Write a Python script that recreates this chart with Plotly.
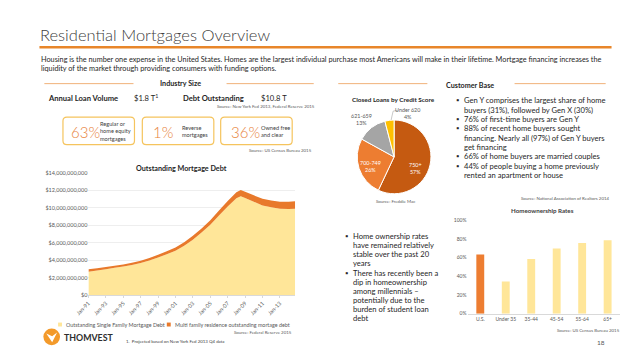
import plotly.graph_objects as go

W, H = 638, 359
def X(px): return px / W
def Y(py): return 1 - py / H

FONT = "Lato"
DARK = "#262626"
GREY = "#595959"

# ---------------- data ----------------
debt_dates = ["1991-01-01", "1992-01-01", "1993-01-01", "1994-01-01", "1995-01-01", "1996-01-01",
              "1997-01-01", "1998-01-01", "1999-01-01", "2000-01-01", "2001-01-01", "2002-01-01",
              "2003-01-01", "2004-01-01", "2005-01-01", "2006-01-01", "2007-01-01", "2008-01-01",
              "2008-07-01", "2009-01-01", "2010-01-01", "2011-01-01", "2012-01-01", "2013-01-01",
              "2014-01-01", "2014-10-01"]
single_family = [2.68, 2.82, 2.97, 3.12, 3.27, 3.46, 3.68, 3.96, 4.31, 4.68, 5.08, 5.65, 6.36, 7.17,
                 8.07, 9.12, 10.16, 11.12, 11.35, 11.13, 10.71, 10.29, 10.07, 9.90, 9.89, 9.92]
multi_family = [0.27, 0.26, 0.25, 0.25, 0.25, 0.26, 0.27, 0.29, 0.31, 0.34, 0.37, 0.40, 0.44, 0.48,
                0.53, 0.58, 0.64, 0.68, 0.70, 0.72, 0.74, 0.76, 0.78, 0.80, 0.83, 0.86]
debt_tickvals = [0, 2, 4, 6, 8, 10, 12, 14]
debt_ticktext = ["$0", "$2,000,000,000", "$4,000,000,000", "$6,000,000,000", "$8,000,000,000",
                 "$10,000,000,000", "$12,000,000,000", "$14,000,000,000"]
date_ticks = ["1991-01-01", "1993-01-01", "1995-01-01", "1997-01-01", "1999-01-01", "2001-01-01",
              "2003-01-01", "2005-01-01", "2007-01-01", "2009-01-01", "2011-01-01", "2013-01-01"]
date_ticktext = ["Jan-91", "Jan-93", "Jan-95", "Jan-97", "Jan-99", "Jan-01", "Jan-03", "Jan-05",
                 "Jan-07", "Jan-09", "Jan-11", "Jan-13"]

credit_labels = ["750+", "700-749", "621-659", "Under 620"]
credit_share = [57, 26, 13, 4]

age_groups = ["U.S.", "Under 35", "35-44", "45-54", "55-64", "65+"]
ownership_rate = [63.5, 34.5, 58.5, 69.8, 75.6, 78.6]

industry_pcts = ["63%", "1%", "36%"]
industry_desc = ["Regular or<br>home equity<br>mortgages", "Reverse<br>mortgages", "Owned free<br>and clear"]

customer_bullets = [
    ["Gen Y comprises the largest share of home", "buyers (31%), followed by Gen X (30%)"],
    ["76% of first-time buyers are Gen Y"],
    ["88% of recent home buyers sought", "financing. Nearly all (97%) of Gen Y buyers", "get financing"],
    ["66% of home buyers are married couples"],
    ["44% of people buying a home previously", "rented an apartment or house"],
]
ownership_bullets = [
    ["Home ownership rates", "have remained relatively", "stable over the past 20", "years"],
    ["There has recently been a", "dip in homeownership", "among millennials \u2013",
     "potentially due to the", "burden of student loan", "debt"],
]

# ---------------- figure ----------------
fig = go.Figure()

fig.add_trace(go.Scatter(x=debt_dates, y=single_family, stackgroup="debt", mode="none",
                         fillcolor="#FFE699", name="Outstanding Single Family Mortgage Debt",
                         xaxis="x", yaxis="y", showlegend=False))
fig.add_trace(go.Scatter(x=debt_dates, y=multi_family, stackgroup="debt", mode="none",
                         fillcolor="#E8792B", name="Multi family residence outstanding mortage debt",
                         xaxis="x", yaxis="y", showlegend=False))

fig.add_trace(go.Pie(labels=credit_labels, values=credit_share, sort=False, direction="clockwise",
                     rotation=0, textinfo="none", hoverinfo="label+percent",
                     marker=dict(colors=["#C55A11", "#ED7D31", "#A5A5A5", "#FFC000"],
                                 line=dict(color="white", width=1)),
                     domain=dict(x=[X(351), X(427)], y=[Y(194), Y(119)]), showlegend=False))

fig.add_trace(go.Bar(x=age_groups, y=ownership_rate, xaxis="x2", yaxis="y2",
                     marker=dict(color=["#ED7D31"] + ["#FFE699"] * 5, line=dict(width=0)),
                     showlegend=False))

axis_font = dict(family=FONT, size=5.5, color=GREY)
fig.update_layout(
    width=W, height=H, margin=dict(l=0, r=0, t=0, b=0), autosize=False,
    paper_bgcolor="white", plot_bgcolor="rgba(0,0,0,0)",
    font=dict(family=FONT, color=DARK),
    xaxis=dict(domain=[X(77), X(288)], type="date", range=["1991-01-01", "2014-10-01"],
               tickvals=date_ticks, ticktext=date_ticktext, tickangle=-45, tickfont=axis_font,
               showgrid=False, showline=True, linecolor="#D9D9D9", ticks="outside", ticklen=2,
               tickcolor="#D9D9D9", anchor="y", fixedrange=True),
    yaxis=dict(domain=[Y(297), Y(173)], range=[0, 14], tickvals=debt_tickvals, ticktext=debt_ticktext,
               tickfont=axis_font, showgrid=True, gridcolor="#E3E3E3", gridwidth=0.6,
               zeroline=False, anchor="x", fixedrange=True, ticklen=0),
    xaxis2=dict(domain=[X(464), X(620)], tickfont=dict(family=FONT, size=5, color=GREY),
                showline=True, linecolor="#D9D9D9", showgrid=False, anchor="y2", fixedrange=True),
    yaxis2=dict(domain=[Y(316), Y(221)], range=[0, 100], dtick=20, ticksuffix="%",
                tickfont=dict(family=FONT, size=5, color=GREY), showgrid=False, zeroline=False,
                anchor="x2", fixedrange=True),
    bargap=0.69,
)

shapes = []
ann = []

def txt(x, y, s, size, color=DARK, xanchor="left", yanchor="middle", align="left", bold=False, weight=None):
    if bold:
        s = "<b>" + s + "</b>"
    f = dict(family=FONT, size=size, color=color)
    if weight is not None:
        f["weight"] = weight
    ann.append(dict(x=X(x), y=Y(y), xref="paper", yref="paper", text=s, showarrow=False,
                    xanchor=xanchor, yanchor=yanchor, align=align, font=f))

def hline(x0, x1, y, color, width):
    shapes.append(dict(type="line", xref="paper", yref="paper", x0=X(x0), x1=X(x1), y0=Y(y), y1=Y(y),
                       line=dict(color=color, width=width)))

# Title and header
txt(26, 33, "Residential Mortgages Overview", 16.5, "#404040", weight=300)
hline(27, 611, 45, "#E8862A", 2.5)
txt(27, 57, "Housing is the number one expense in the United States. Homes are the largest individual purchase most Americans will make in their lifetime. Mortgage financing increases the", 7.3)
txt(27, 67, "liquidity of the market through providing consumers with funding options.", 7.3)

# Industry size
txt(171, 82, "Industry Size", 7.2, xanchor="center", bold=True)
hline(32, 123, 82, "#F0B27A", 1)
hline(218, 307, 82, "#F0B27A", 1)
txt(34, 97, "Annual Loan Volume", 7.6, bold=True)
txt(121, 97, "$1.8 T<sup>1</sup>", 7.6)
txt(172, 97, "Debt Outstanding", 7.6, bold=True)
txt(251, 97, "$10.8 T", 7.6)
txt(310, 105, "Source: New York Fed 2013, Federal Reserve 2015", 4.4, GREY, xanchor="right")

box_x = [51, 132, 212]
box_w = 73
for i, bx in enumerate(box_x):
    x0, x1, y0, y1, r = bx, bx + box_w, 116, 144, 4
    path = (f"M {X(x0 + r)},{Y(y0)} L {X(x1 - r)},{Y(y0)} Q {X(x1)},{Y(y0)} {X(x1)},{Y(y0 + r)} "
            f"L {X(x1)},{Y(y1 - r)} Q {X(x1)},{Y(y1)} {X(x1 - r)},{Y(y1)} L {X(x0 + r)},{Y(y1)} "
            f"Q {X(x0)},{Y(y1)} {X(x0)},{Y(y1 - r)} L {X(x0)},{Y(y0 + r)} Q {X(x0)},{Y(y0)} {X(x0 + r)},{Y(y0)} Z")
    shapes.append(dict(type="path", xref="paper", yref="paper", path=path,
                       line=dict(color="#F5C45E", width=1.2), fillcolor="white"))
pct_x = [57, 141, 220]
desc_x = [87, 170, 251]
for i in range(3):
    txt(pct_x[i], 131, industry_pcts[i], 15, "#E8833A", weight=300)
    txt(desc_x[i], 130, industry_desc[i], 5.6, "#404040")
txt(307, 150, "Source: US Census Bureau 2015", 4.4, GREY, xanchor="right")

# Area chart title / legend / sources
txt(172, 168, "Outstanding Mortgage Debt", 7.2, xanchor="center", bold=True)
shapes.append(dict(type="rect", xref="paper", yref="paper", x0=X(46), x1=X(50), y0=Y(325), y1=Y(329),
                   fillcolor="#FFE699", line=dict(width=0)))
txt(52, 327, "Outstanding Single Family Mortgage Debt", 5.4, GREY)
shapes.append(dict(type="rect", xref="paper", yref="paper", x0=X(157), x1=X(161), y0=Y(325), y1=Y(329),
                   fillcolor="#E8792B", line=dict(width=0)))
txt(163, 327, "Multi family residence outstanding mortage debt", 5.4, GREY)
txt(287, 335, "Source: Federal Reserve 2015", 4.4, GREY, xanchor="right")
txt(113, 344, "1.  Projected based on New York Fed 2013 Q4 data", 4.4, "#404040")

# Logo
shapes.append(dict(type="circle", xref="paper", yref="paper", x0=X(31), x1=X(48), y0=Y(348), y1=Y(331),
                   fillcolor="#F39A2B", line=dict(width=0)))
shapes.append(dict(type="path", xref="paper", yref="paper",
                   path=f"M {X(34)},{Y(336)} L {X(40)},{Y(345)} L {X(45)},{Y(335)} L {X(40)},{Y(339)} Z",
                   fillcolor="white", line=dict(width=0)))
txt(50, 340, "THOMVEST", 8.8, "#2E2E2E", bold=True)

# Customer base
txt(467, 84, "Customer Base", 7.2, xanchor="center", bold=True)
hline(332, 423, 82, "#F0B27A", 1)
hline(512, 605, 82, "#F0B27A", 1)
txt(388, 98, "Closed Loans by Credit Score", 6.4, xanchor="center", bold=True)

pie_pos = [(411, 168, "white"), (365, 166, "white"), (356, 118, GREY), (403, 112, GREY)]
for (px, py, col), lab, val in zip(pie_pos, credit_labels, credit_share):
    txt(px, py, f"{lab}<br>{val}%", 5.4, col, xanchor="center", align="center")
shapes.append(dict(type="path", xref="paper", yref="paper",
                   path=f"M {X(393)},{Y(109)} L {X(388)},{Y(110)} L {X(386)},{Y(119)}",
                   line=dict(color="#A5A5A5", width=0.6)))
txt(390, 202, "Source: Freddie Mac", 4.4, GREY, xanchor="center")

y = 99
for item in customer_bullets:
    for j, line in enumerate(item):
        if j == 0:
            txt(450, y, "\u25aa", 7.6)
        txt(458, y, line, 7.6)
        y += 9.5
txt(610, 199, "Source: National Association of Realtors 2014", 4.4, GREY, xanchor="right")
txt(541, 211, "Homeownership Rates", 6.2, "#404040", xanchor="center", bold=True)
txt(622, 333, "Source: US Census Bureau 2015", 4.4, GREY, xanchor="right")
txt(600, 345, "18", 6.5, GREY, xanchor="center")

y = 237
for item in ownership_bullets:
    for j, line in enumerate(item):
        if j == 0:
            txt(337, y, "\u25aa", 7.6)
        txt(345, y, line, 7.6)
        y += 9.3

fig.update_layout(shapes=shapes, annotations=ann)
fig.write_html("out.html", config={"displayModeBar": False, "staticPlot": True},
               post_script="document.body.style.margin='0';")
